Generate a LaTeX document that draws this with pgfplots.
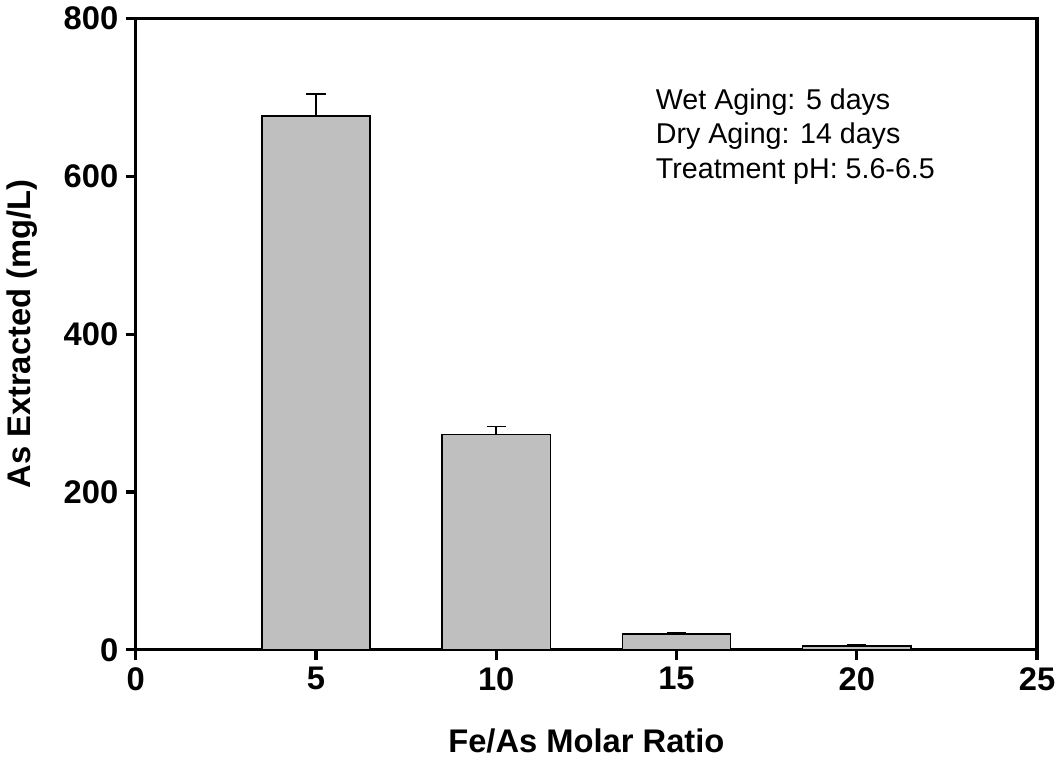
\documentclass[border=0pt]{standalone}
\usepackage{fontspec}
\setmainfont{Liberation Sans}
\usepackage{pgfplots}
\pgfplotsset{compat=1.18}
\begin{document}
\begin{tikzpicture}
\begin{axis}[
  scale only axis,
  clip=false,
  width=441pt, height=309pt,
  xmin=0, xmax=25, ymin=0, ymax=800,
  xtick={0,5,10,15,20,25},
  ytick={0,200,400,600,800},
  tick align=outside,
  tick pos=left,
  major tick length=5pt,
  axis line style={line width=1.5pt},
  tick style={black, line width=1.5pt},
  /pgf/number format/assume math mode=true,
  tick label style={font=\bfseries\fontsize{16}{19}\selectfont},
  label style={font=\bfseries\fontsize{16}{19}\selectfont},
  xlabel={Fe/As Molar Ratio},
  ylabel={As Extracted (mg/L)},
  xlabel style={yshift=-12pt},
  ylabel style={yshift=6pt},
]
\addplot[ybar, bar width=3, fill=black!25, draw=black, line width=0.8pt,
  error bars/.cd, y dir=plus, y explicit,
  error bar style={line width=0.8pt, black},
  error mark options={rotate=90, line width=0.8pt, black, mark size=4.75pt}]
  coordinates {
  (5,676) +- (0,28)
  (10,273) +- (0,10)
  (15,20.5) +- (0,1.5)
  (20,5) +- (0,1)
};
\coordinate (xa) at (axis cs:0,0);
\coordinate (xb) at (axis cs:5,0);
\coordinate (xc) at (axis cs:10,0);
\coordinate (xd) at (axis cs:15,0);
\coordinate (xe) at (axis cs:20,0);
\coordinate (xf) at (axis cs:25,0);
\coordinate (ya) at (axis cs:0,200);
\coordinate (yb) at (axis cs:0,400);
\coordinate (yc) at (axis cs:0,600);
\coordinate (yd) at (axis cs:0,800);
\node[anchor=north west, align=left, inner sep=0pt, font=\fontsize{14}{16.7}\selectfont] at (axis cs:14.42,711) {Wet Aging: 5 days\\Dry Aging: 14 days\\Treatment pH: 5.6-6.5};
\end{axis}
\foreach \c in {xa,xb,xc,xd,xe,xf}{
  \draw[line width=1.5pt, black] (\c) -- ++(0pt,-5pt);
}
\foreach \c in {xa,ya,yb,yc,yd}{
  \draw[line width=1.5pt, black] (\c) -- ++(-5pt,0pt);
}
\end{tikzpicture}
\end{document}
